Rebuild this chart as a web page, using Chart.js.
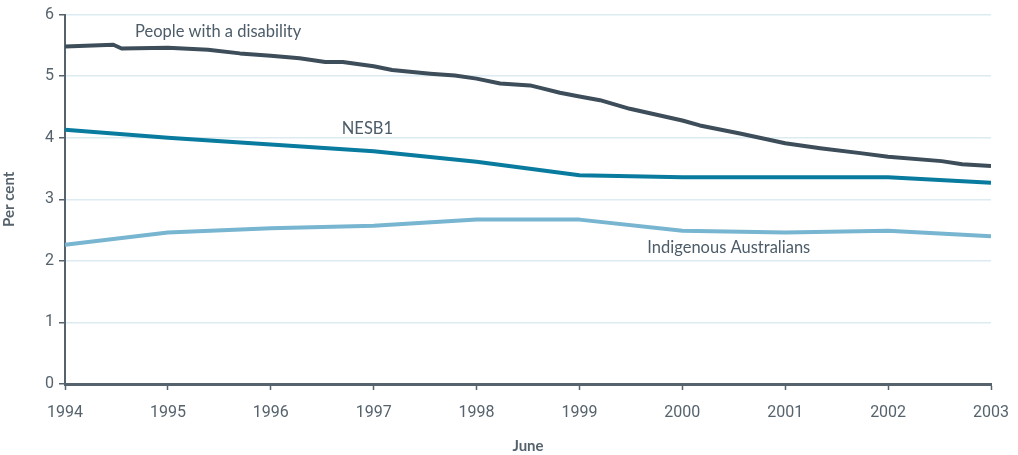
<!DOCTYPE html>
<html>
<head>
<meta charset="utf-8">
<script src="https://cdn.jsdelivr.net/npm/chart.js@4.4.0/dist/chart.umd.min.js"></script>
<style>
  html, body { margin: 0; padding: 0; background: #fff; }
  #wrap { width: 1018px; height: 455px; position: relative; }
</style>
</head>
<body>
<div id="wrap"><canvas id="rateChart"></canvas></div>
<script>
// Year ticks along the bottom (June of each year)
const years = [1994, 1995, 1996, 1997, 1998, 1999, 2000, 2001, 2002, 2003];

// People with a disability - sampled more often, so it carries its own x values
const disabilityX = [1994.0, 1994.47, 1994.55, 1995.0, 1995.39, 1995.7, 1996.0, 1996.28, 1996.53, 1996.7,
    1997.0, 1997.18, 1997.55, 1997.79, 1998.0, 1998.23, 1998.52, 1998.62, 1998.81, 1999.0,
    1999.2, 1999.49, 2000.0, 2000.17, 2000.56, 2001.0, 2001.34, 2001.73, 2002.0, 2002.52,
    2002.72, 2003.0];
const disabilityY = [5.48, 5.51, 5.45, 5.46, 5.43, 5.37, 5.33, 5.29, 5.23, 5.23,
    5.16, 5.10, 5.04, 5.01, 4.96, 4.88, 4.85, 4.81, 4.73, 4.67,
    4.61, 4.47, 4.28, 4.20, 4.07, 3.91, 3.83, 3.75, 3.69, 3.62,
    3.57, 3.54];

// Yearly series
const nesb1 = [4.13, 4.00, 3.89, 3.78, 3.61, 3.39, 3.36, 3.36, 3.36, 3.27];
const indigenous = [2.26, 2.46, 2.53, 2.57, 2.67, 2.67, 2.49, 2.46, 2.49, 2.40];

const yTicks = [0, 1, 2, 3, 4, 5, 6];

function toPoints(xs, ys) {
    return xs.map((x, i) => ({ x: x, y: ys[i] }));
}

// In-chart series names, anchored in data units
const seriesLabels = [
    { text: 'People with a disability', x: 1994.68, y: 5.73 },
    { text: 'NESB1', x: 1996.69, y: 4.14 },
    { text: 'Indigenous Australians', x: 1999.66, y: 2.22 }
];

const inlineLabels = {
    id: 'inlineLabels',
    afterDatasetsDraw(chart) {
        const { ctx, scales } = chart;
        ctx.save();
        ctx.font = '16.5px Lato, "Open Sans", sans-serif';
        ctx.fillStyle = '#4c5c68';
        ctx.textAlign = 'left';
        ctx.textBaseline = 'middle';
        seriesLabels.forEach(l => {
            ctx.fillText(l.text, scales.x.getPixelForValue(l.x), scales.y.getPixelForValue(l.y));
        });
        ctx.restore();
    }
};

const axisColor = '#56636d';
const textColor = '#56636d';

new Chart(document.getElementById('rateChart'), {
    type: 'line',
    data: {
        datasets: [
            {
                label: 'People with a disability',
                data: toPoints(disabilityX, disabilityY),
                borderColor: '#3d4d59',
                borderWidth: 4
            },
            {
                label: 'NESB1',
                data: toPoints(years, nesb1),
                borderColor: '#087b9e',
                borderWidth: 4
            },
            {
                label: 'Indigenous Australians',
                data: toPoints(years, indigenous),
                borderColor: '#77b5d0',
                borderWidth: 4
            }
        ]
    },
    options: {
        responsive: true,
        maintainAspectRatio: false,
        animation: false,
        elements: {
            point: { radius: 0 },
            line: { tension: 0, borderCapStyle: 'butt', borderJoinStyle: 'round' }
        },
        layout: { padding: { top: 13, right: 27, left: 0, bottom: 0 } },
        plugins: {
            legend: { display: false },
            tooltip: { enabled: false }
        },
        scales: {
            x: {
                type: 'linear',
                min: 1994,
                max: 2003,
                afterBuildTicks: axis => { axis.ticks = years.map(v => ({ value: v })); },
                afterFit: axis => {
                    axis.height = 71;
                    // keep the end labels from shrinking the plot area
                    axis.paddingLeft = 0;
                    axis.paddingRight = 0;
                },
                border: { color: axisColor, width: 3 },
                grid: { drawOnChartArea: false, drawTicks: true, tickLength: 6, tickColor: axisColor, tickWidth: 1.5 },
                ticks: {
                    color: textColor,
                    font: { family: 'Roboto', size: 16 },
                    padding: 13,
                    maxRotation: 0,
                    callback: v => String(v)
                },
                title: {
                    display: true,
                    text: 'June',
                    color: textColor,
                    font: { family: 'Lato', size: 15, weight: 'bold' },
                    padding: { top: 4, bottom: 0 }
                }
            },
            y: {
                min: 0,
                max: 6,
                afterBuildTicks: axis => { axis.ticks = yTicks.map(v => ({ value: v })); },
                afterFit: axis => { axis.width = 65; },
                border: { color: axisColor, width: 2 },
                grid: { color: '#dcebf2', lineWidth: 1.5, tickColor: axisColor, tickLength: 6, tickWidth: 1.5 },
                ticks: {
                    color: textColor,
                    font: { family: 'Roboto', size: 16 },
                    padding: 5
                },
                title: {
                    display: true,
                    text: 'Per cent',
                    color: textColor,
                    font: { family: 'Lato', size: 15, weight: 'bold' },
                    padding: { top: 0, bottom: 8 }
                }
            }
        }
    },
    plugins: [inlineLabels]
});
</script>
</body>
</html>
